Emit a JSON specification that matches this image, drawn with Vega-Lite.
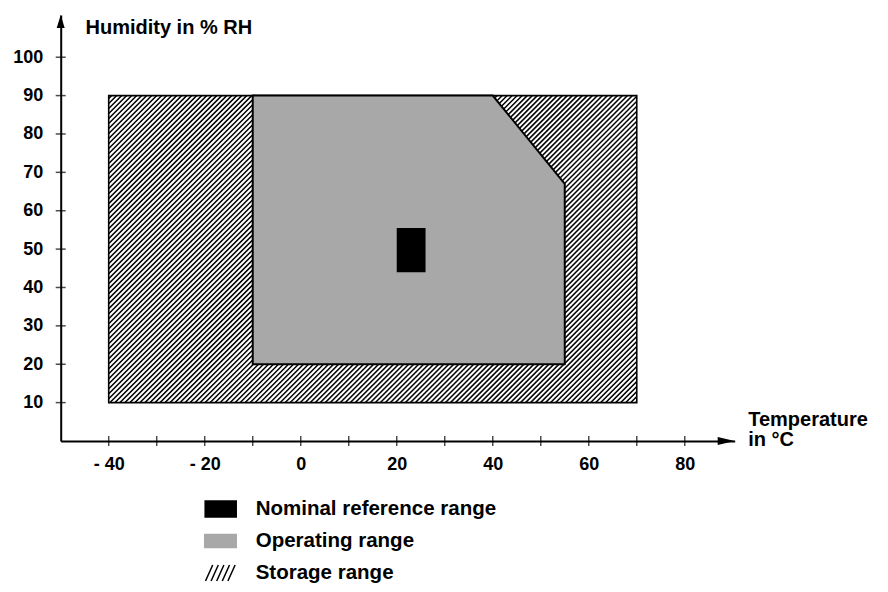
{
  "$schema": "https://vega.github.io/schema/vega-lite/v6.json",
  "width": 674,
  "height": 426,
  "autosize": "none",
  "padding": {"left": 60.7, "top": 15, "right": 153.3, "bottom": 151},
  "background": "white",
  "config": {
    "view": {"stroke": null},
    "font": "Liberation Sans",
    "axis": {"labelFont": "Liberation Sans", "titleFont": "Liberation Sans", "labelColor": "#000", "titleColor": "#000", "labelFontWeight": "bold", "titleFontWeight": "bold", "grid": false},
    "legend": {"labelFont": "Liberation Sans", "labelColor": "#000", "labelFontWeight": "bold"}
  },
  "layer": [
    {
      "data": {"values": [{"x": -51.6, "y": 133.7}, {"x": 81.7, "y": -33.1}]},
      "mark": {"type": "line", "clip": true, "strokeWidth": 650, "strokeDash": [1.5, 2.04], "strokeCap": "butt", "color": "#000"},
      "encoding": {
        "x": {"field": "x", "type": "quantitative", "scale": {"domain": [-50, 90.4], "nice": false, "zero": false},
          "axis": {"values": [-40, -20, 0, 20, 40, 60, 80], "ticks": false, "tickSize": 0, "domain": true, "domainWidth": 2, "domainColor": "#000", "labelFontSize": 18, "labelPadding": 14, "labelExpr": "datum.value < 0 ? '- ' + abs(datum.value) : datum.label", "title": ["Temperature", "in °C"], "titleFontSize": 20, "titleX": 687, "titleY": -16, "titleAlign": "left", "titleBaseline": "alphabetic", "titleLineHeight": 20, "titleAngle": 0, "zindex": 1}},
        "y": {"field": "y", "type": "quantitative", "scale": {"domain": [0, 111], "nice": false, "zero": false},
          "axis": {"values": [10, 20, 30, 40, 50, 60, 70, 80, 90, 100], "ticks": false, "tickSize": 0, "domain": true, "domainWidth": 2, "domainColor": "#000", "labelFontSize": 18, "labelPadding": 18, "title": "Humidity in % RH", "titleFontSize": 20, "titleAngle": 0, "titleX": 24.3, "titleY": 18, "titleAlign": "left", "titleBaseline": "alphabetic", "zindex": 1}}
      }
    },
    {
      "data": {"values": [
        {"x": -56, "x2": -40, "y": -3, "y2": 115},
        {"x": 70, "x2": 96, "y": -3, "y2": 115},
        {"x": -56, "x2": 96, "y": -3, "y2": 10},
        {"x": -56, "x2": 96, "y": 90, "y2": 115}
      ]},
      "mark": {"type": "rect", "fill": "white", "strokeWidth": 0, "clip": false},
      "encoding": {
        "x": {"field": "x", "type": "quantitative"},
        "x2": {"field": "x2"},
        "y": {"field": "y", "type": "quantitative"},
        "y2": {"field": "y2"}
      }
    },
    {
      "data": {"values": [{"range": "Storage range", "x": -40, "x2": 70, "y": 10, "y2": 90}]},
      "mark": {"type": "rect", "fillOpacity": 0, "stroke": "#000", "strokeWidth": 1.6},
      "encoding": {
        "x": {"field": "x", "type": "quantitative"},
        "x2": {"field": "x2"},
        "y": {"field": "y", "type": "quantitative"},
        "y2": {"field": "y2"}
      }
    },
    {
      "data": {"values": [
        {"range": "Operating range", "x": -10, "y": 20, "y2": 90},
        {"range": "Operating range", "x": 40, "y": 20, "y2": 90},
        {"range": "Operating range", "x": 55, "y": 20, "y2": 67}
      ]},
      "mark": {"type": "area", "fill": "#a8a8a8", "stroke": "#000", "strokeWidth": 2, "interpolate": "linear"},
      "encoding": {
        "x": {"field": "x", "type": "quantitative"},
        "y": {"field": "y", "type": "quantitative"},
        "y2": {"field": "y2"}
      }
    },
    {
      "data": {"values": [{"range": "Nominal reference range", "x": 20, "x2": 26, "y": 44, "y2": 55.5}]},
      "mark": {"type": "rect", "fill": "#000"},
      "encoding": {
        "x": {"field": "x", "type": "quantitative"},
        "x2": {"field": "x2"},
        "y": {"field": "y", "type": "quantitative"},
        "y2": {"field": "y2"}
      }
    },
    {
      "data": {"values": [{"v": 10}, {"v": 20}, {"v": 30}, {"v": 40}, {"v": 50}, {"v": 60}, {"v": 70}, {"v": 80}, {"v": 90}, {"v": 100}]},
      "mark": {"type": "tick", "orient": "horizontal", "size": 10, "thickness": 1.5, "color": "#000", "clip": false},
      "encoding": {
        "x": {"datum": -50, "type": "quantitative"},
        "y": {"field": "v", "type": "quantitative"}
      }
    },
    {
      "data": {"values": [{"v": -40}, {"v": -30}, {"v": -20}, {"v": -10}, {"v": 0}, {"v": 10}, {"v": 20}, {"v": 30}, {"v": 40}, {"v": 50}, {"v": 60}, {"v": 70}, {"v": 80}]},
      "mark": {"type": "tick", "orient": "vertical", "size": 10, "thickness": 1.5, "color": "#000", "clip": false},
      "encoding": {
        "x": {"field": "v", "type": "quantitative"},
        "y": {"datum": 0, "type": "quantitative"}
      }
    },
    {
      "data": {"values": [{"a": "y"}]},
      "mark": {"type": "point", "shape": "M0,0L-0.8,2.6L0.8,2.6Z", "size": 100, "filled": true, "color": "#000", "opacity": 1, "clip": false},
      "encoding": {
        "x": {"datum": -50, "type": "quantitative"},
        "y": {"datum": 111, "type": "quantitative"}
      }
    },
    {
      "data": {"values": [{"a": "x"}]},
      "mark": {"type": "point", "shape": "M0,0L-3.4,-0.8L-3.4,0.8Z", "size": 100, "filled": true, "color": "#000", "opacity": 1, "clip": false},
      "encoding": {
        "x": {"datum": 90.4, "type": "quantitative"},
        "y": {"datum": 0, "type": "quantitative"}
      }
    },
    {
      "data": {"values": [{"range": "Nominal reference range"}, {"range": "Operating range"}, {"range": "Storage range"}]},
      "mark": {"type": "point", "filled": true, "opacity": 0, "size": 1024},
      "encoding": {
        "fill": {"field": "range", "type": "nominal",
          "scale": {"domain": ["Nominal reference range", "Operating range", "Storage range"], "range": ["#000000", "#a8a8a8", "transparent"]},
          "legend": {"orient": "none", "legendX": 143, "legendY": 477, "title": null, "symbolSize": 1024, "labelFontSize": 20.5, "labelOffset": 18, "labelLimit": 500, "rowPadding": 4, "symbolStrokeWidth": 1.5, "symbolOpacity": 1}},
        "stroke": {"field": "range", "type": "nominal",
          "scale": {"domain": ["Nominal reference range", "Operating range", "Storage range"], "range": ["#000000", "#a8a8a8", "#000000"]},
          "legend": {"orient": "none", "legendX": 143, "legendY": 477, "title": null, "symbolSize": 1024, "labelFontSize": 20.5, "labelOffset": 18, "labelLimit": 500, "rowPadding": 4, "symbolStrokeWidth": 1.5, "symbolOpacity": 1}},
        "shape": {"field": "range", "type": "nominal",
          "scale": {"domain": ["Nominal reference range", "Operating range", "Storage range"], "range": ["M-0.97,-0.5H0.97V0.5H-0.97Z", "M-1,-0.4H0.97V0.4H-1Z", "M-0.95,0.5L-0.5,-0.5M-0.6,0.5L-0.15,-0.5M-0.25,0.5L0.2,-0.5M0.1,0.5L0.55,-0.5M0.45,0.5L0.9,-0.5"]},
          "legend": {"orient": "none", "legendX": 143, "legendY": 477, "title": null, "symbolSize": 1024, "labelFontSize": 20.5, "labelOffset": 18, "labelLimit": 500, "rowPadding": 4, "symbolStrokeWidth": 1.5, "symbolOpacity": 1}}
      }
    }
  ]
}
